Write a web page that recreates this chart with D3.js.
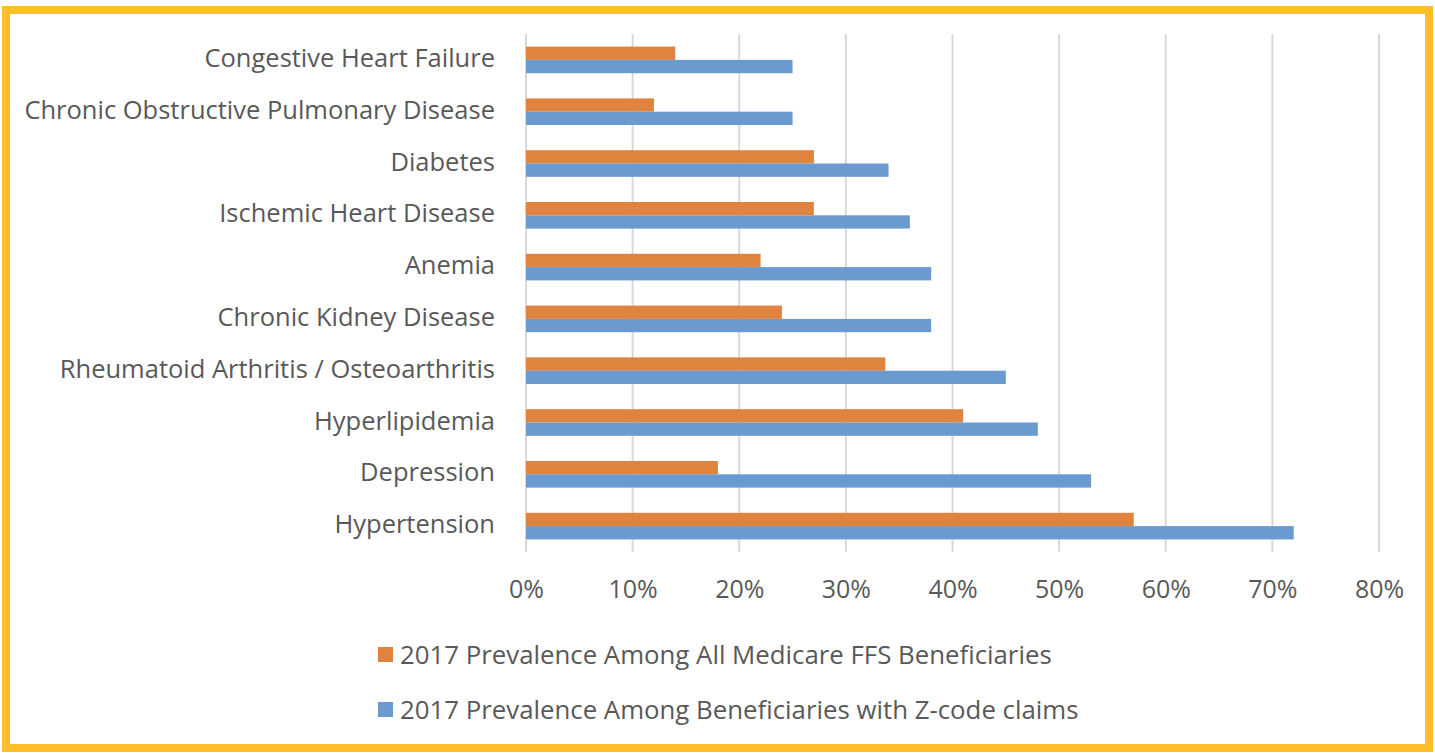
<!DOCTYPE html>
<html>
<head>
<meta charset="utf-8">
<script src="https://cdn.jsdelivr.net/npm/d3@7"></script>
<style>
  body { margin: 0; background: #fff; }
  svg text { font-family: "Open Sans", sans-serif; fill: #595959; }
</style>
</head>
<body>
<div id="chart"></div>
<script>
const categories = [
  "Congestive Heart Failure",
  "Chronic Obstructive Pulmonary Disease",
  "Diabetes",
  "Ischemic Heart Disease",
  "Anemia",
  "Chronic Kidney Disease",
  "Rheumatoid Arthritis / Osteoarthritis",
  "Hyperlipidemia",
  "Depression",
  "Hypertension"
];
const allFfs = [14, 12, 27, 27, 22, 24, 33.7, 41, 18, 57];
const zCode = [25, 25, 34, 36, 38, 38, 45, 48, 53, 72];
const seriesNames = [
  "2017 Prevalence Among All Medicare FFS Beneficiaries",
  "2017 Prevalence Among Beneficiaries with Z-code claims"
];
const xTicks = [0, 10, 20, 30, 40, 50, 60, 70, 80];

const colors = ["#E0833F", "#6A9AD0"];
const W = 1435, H = 753;
const plot = { left: 526, right: 1379, top: 34, bottom: 552 };

const svg = d3.select("#chart")
  .append("svg")
  .attr("width", W)
  .attr("height", H);

// yellow frame
svg.append("rect")
  .attr("x", 6)
  .attr("y", 10)
  .attr("width", W - 12)
  .attr("height", H - 15)
  .attr("fill", "none")
  .attr("stroke", "#FDBE2A")
  .attr("stroke-width", 8);

const x = d3.scaleLinear()
  .domain([0, 80])
  .range([plot.left, plot.right]);

const y = d3.scaleBand()
  .domain(categories)
  .range([plot.top, plot.bottom])
  .paddingInner(0.486)
  .paddingOuter(0.243);

const sub = d3.scaleBand()
  .domain([0, 1])
  .range([0, y.bandwidth()]);

// gridlines
svg.append("g")
  .selectAll("line")
  .data(xTicks)
  .join("line")
  .attr("x1", d => x(d))
  .attr("x2", d => x(d))
  .attr("y1", plot.top)
  .attr("y2", plot.bottom)
  .attr("stroke", "#d9d9d9")
  .attr("stroke-width", 2);

// bars
const rows = categories.map((c, i) => ({ cat: c, vals: [allFfs[i], zCode[i]] }));

svg.append("g")
  .selectAll("g")
  .data(rows)
  .join("g")
  .attr("transform", d => `translate(0,${y(d.cat)})`)
  .selectAll("rect")
  .data(d => d.vals.map((v, k) => ({ v, k })))
  .join("rect")
  .attr("x", x(0))
  .attr("y", d => sub(d.k))
  .attr("width", d => x(d.v) - x(0))
  .attr("height", sub.bandwidth())
  .attr("fill", d => colors[d.k]);

// x axis labels
const xAxis = svg.append("g")
  .attr("transform", `translate(0,${plot.bottom})`)
  .call(d3.axisBottom(x)
    .tickValues(xTicks)
    .tickFormat(d => d + "%")
    .tickSize(0)
    .tickPadding(28));
xAxis.select(".domain").remove();
xAxis.selectAll("text")
  .style("font-size", "25px")
  .style("fill", "#595959");

// y axis labels
const yAxis = svg.append("g")
  .attr("transform", `translate(${plot.left},0)`)
  .call(d3.axisLeft(y).tickSize(0).tickPadding(31));
yAxis.select(".domain").remove();
yAxis.selectAll("text")
  .attr("dy", "0.28em")
  .style("font-size", "25.5px")
  .style("fill", "#595959");

// legend
const legend = svg.append("g")
  .selectAll("g")
  .data(seriesNames)
  .join("g")
  .attr("transform", (d, i) => `translate(378,${647 + i * 55})`);

legend.append("rect")
  .attr("width", 15)
  .attr("height", 15)
  .attr("fill", (d, i) => colors[i]);

legend.append("text")
  .attr("x", 22)
  .attr("y", 8)
  .attr("dy", "0.35em")
  .style("font-size", "25.8px")
  .text(d => d);
</script>
</body>
</html>
